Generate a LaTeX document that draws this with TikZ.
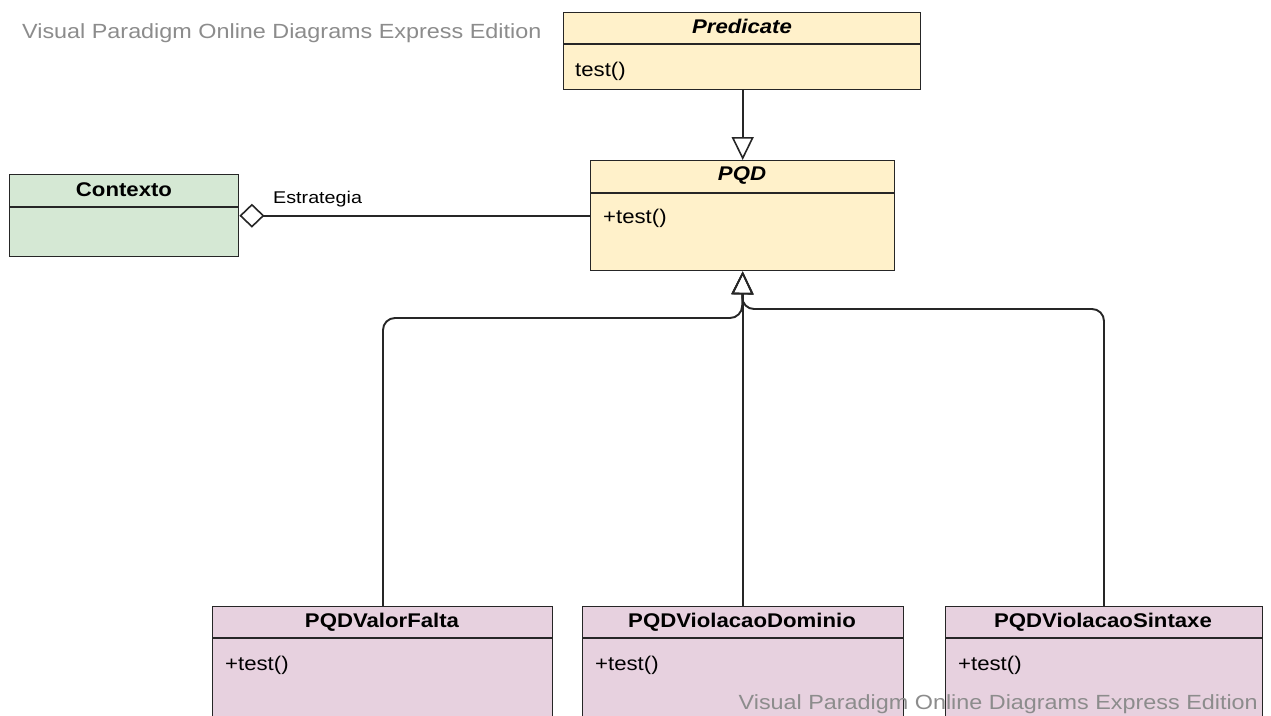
\documentclass[tikz,border=0pt]{standalone}
\usepackage{fontspec}
\setmainfont{Liberation Sans}
\usepackage{graphicx}
\usetikzlibrary{arrows.meta}
\definecolor{classyellow}{HTML}{FFF1CA}
\definecolor{classgreen}{HTML}{D5E8D4}
\definecolor{classpink}{HTML}{E7D1DF}
\definecolor{edge}{HTML}{262626}
\definecolor{markgrey}{HTML}{8C8C8C}
% Helvetica-style text is set slightly wide
\newcommand{\wtxt}[2][1.12]{\scalebox{#1}[1]{#2}}
\tikzset{
  classbox/.style={draw=edge, line width=1.4pt, anchor=north west, inner sep=0pt},
  divider/.style={draw=edge, line width=1.4pt},
  ctitle/.style={inner sep=0pt, font=\fontsize{19.8}{22}\selectfont\bfseries},
  member/.style={inner sep=0pt, anchor=west, font=\fontsize{19.8}{22}\selectfont},
  conn/.style={draw=edge, line width=1.9pt},
  generalize/.style={conn, -{Triangle[open, length=23pt, width=22pt, line width=1.6pt]}, rounded corners=12pt},
  aggregate/.style={conn, {Diamond[open, length=25pt, width=24pt, line width=1.6pt]}-},
  wmark/.style={inner sep=0pt, text=markgrey, font=\fontsize{20.5}{23}\selectfont},
}
\begin{document}
\begin{tikzpicture}[x=1pt, y=-1pt]
\clip (0,0) rectangle (1271,715);
\fill[white] (0,0) rectangle (1271,715);

% Predicate interface
\node[classbox, fill=classyellow, minimum width=357pt, minimum height=77pt] (pred) at (563,12) {};
\draw[divider] (563,44) -- (920,44);
\node[ctitle] (predT) at (742,26.5) {\wtxt{\itshape Predicate}};
\node[member] (predM) at (575,71) {\wtxt{test()}};

% PQD abstract strategy
\node[classbox, fill=classyellow, minimum width=304pt, minimum height=110pt] (pqd) at (590,160) {};
\draw[divider] (590,193) -- (894,193);
\node[ctitle] (pqdT) at (742,176) {\wtxt{\itshape PQD}};
\node[member] (pqdM) at (603,218.5) {\wtxt{+test()}};

% Context
\node[classbox, fill=classgreen, minimum width=229pt, minimum height=82pt] (ctx) at (9,174) {};
\draw[divider] (9,207) -- (238,207);
\node[ctitle] (ctxT) at (124,190) {\wtxt{Contexto}};

% Concrete strategies
\node[classbox, fill=classpink, minimum width=340pt, minimum height=130pt] (vf) at (212,606) {};
\draw[divider] (212,638) -- (552,638);
\node[ctitle] (vfT) at (382,622.5) {\wtxt{PQDValorFalta}};
\node[member] (vfM) at (225,665.5) {\wtxt{+test()}};

\node[classbox, fill=classpink, minimum width=321pt, minimum height=130pt] (vd) at (582,606) {};
\draw[divider] (582,638) -- (903,638);
\node[ctitle] (vdT) at (742,622.5) {\wtxt{PQDViolacaoDominio}};
\node[member] (vdM) at (595,665.5) {\wtxt{+test()}};

\node[classbox, fill=classpink, minimum width=317pt, minimum height=130pt] (vs) at (945,606) {};
\draw[divider] (945,638) -- (1262,638);
\node[ctitle] (vsT) at (1103,622.5) {\wtxt{PQDViolacaoSintaxe}};
\node[member] (vsM) at (958,665.5) {\wtxt{+test()}};

% Generalizations
\draw[generalize] (pred.south -| pqd.north) -- (pqd.north);
\draw[generalize] (vf.north -| 383,0) -- (383,318) -- (742,318) -- (pqd.south);
\draw[generalize] (vd.north -| pqd.south) -- (pqd.south);
\draw[generalize] (vs.north -| 1104,0) -- (1104,309) -- (742,309) -- (pqd.south);

% Aggregation
\draw[aggregate] (ctx.east) -- (ctx.east -| pqd.west);
\node[inner sep=0pt, anchor=west, font=\fontsize{17}{19}\selectfont] (lbl) at (273,199) {\wtxt[1.16]{Estrategia}};

% Editor watermarks
\node[wmark, anchor=west] (wm1) at (22,33) {\wtxt[1.14]{Visual Paradigm Online Diagrams Express Edition}};
\node[wmark, anchor=east] (wm2) at (1258,704) {\wtxt[1.14]{Visual Paradigm Online Diagrams Express Edition}};
\end{tikzpicture}
\end{document}
